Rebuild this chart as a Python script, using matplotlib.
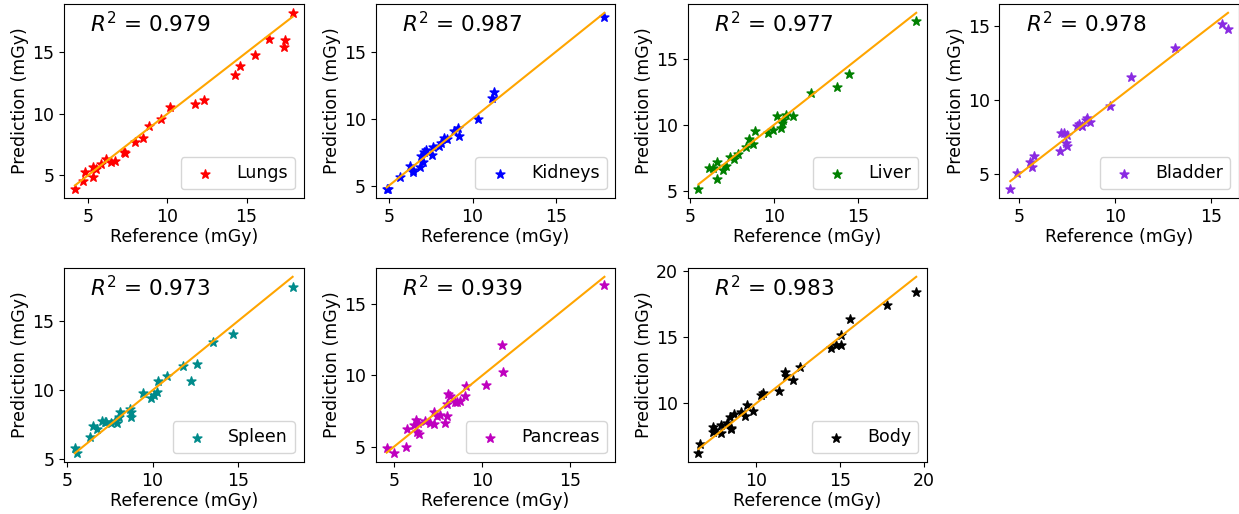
import numpy as np
import matplotlib
matplotlib.use("Agg")
import matplotlib.pyplot as plt

# (Reference dose, Predicted dose) in mGy
lungs_ref = [4.16, 4.69, 4.79, 5.31, 5.31, 5.52, 5.84, 6.15, 6.46, 6.67, 7.24, 7.34,
             7.93, 8.45, 8.87, 9.60, 10.17, 11.76, 12.32, 14.25, 14.56, 15.52, 16.44,
             17.41, 17.38, 17.91]
lungs_pred = [3.86, 4.51, 5.22, 4.86, 5.63, 5.54, 5.95, 6.28, 6.09, 6.14, 6.85, 6.77,
              7.72, 8.07, 9.02, 9.54, 10.57, 10.76, 11.09, 13.15, 13.91, 14.78, 16.09,
              16.00, 15.41, 18.23]

kidneys_ref = [4.86, 4.96, 5.66, 6.26, 6.42, 6.46, 6.86, 6.90, 7.06, 7.12, 7.20, 7.55,
               7.65, 8.01, 8.11, 8.31, 8.45, 8.91, 9.11, 9.21, 10.31, 11.15, 11.29, 17.89]
kidneys_pred = [4.73, 4.75, 5.67, 6.49, 6.04, 6.16, 6.36, 7.20, 6.78, 7.52, 7.65, 7.28,
                7.90, 7.95, 8.19, 8.56, 8.44, 9.08, 9.26, 8.69, 9.95, 11.56, 11.98, 17.60]

liver_ref = [5.50, 6.15, 6.35, 6.59, 6.61, 6.99, 7.15, 7.35, 7.64, 7.84, 8.34, 8.54,
             8.74, 8.84, 9.67, 9.93, 10.19, 10.43, 10.47, 10.53, 10.73, 11.12, 12.18,
             13.77, 14.50, 18.48]
liver_pred = [5.13, 6.76, 6.76, 5.89, 7.21, 6.58, 6.88, 7.60, 7.42, 7.80, 8.36, 8.92,
              8.56, 9.50, 9.38, 9.63, 10.70, 9.76, 10.14, 10.39, 10.78, 10.70, 12.38,
              12.89, 13.83, 17.85]

bladder_ref = [4.53, 4.86, 5.55, 5.66, 5.75, 7.13, 7.17, 7.34, 7.43, 7.46, 7.48, 8.00,
               8.12, 8.29, 8.47, 8.55, 8.67, 9.73, 10.81, 13.11, 15.54, 15.87]
bladder_pred = [3.99, 5.09, 5.79, 5.50, 6.24, 6.55, 7.79, 7.75, 7.12, 6.89, 7.64, 8.24,
                8.38, 8.24, 8.65, 8.76, 8.49, 9.62, 11.58, 13.49, 15.11, 14.80]

spleen_ref = [5.45, 5.58, 6.32, 6.51, 6.75, 7.06, 7.19, 7.29, 7.58, 7.78, 7.91, 8.03,
              8.11, 8.65, 8.71, 8.75, 9.43, 9.91, 10.07, 10.24, 10.34, 10.84, 11.80,
              12.24, 12.63, 13.54, 14.73, 18.20]
spleen_pred = [5.81, 5.48, 6.60, 7.39, 7.20, 7.79, 7.67, 7.72, 7.63, 7.79, 7.63, 8.03,
               8.44, 8.68, 8.44, 8.10, 9.82, 9.46, 9.65, 9.87, 10.66, 11.06, 11.78,
               10.66, 11.92, 13.52, 14.07, 17.46]

pancreas_ref = [4.57, 5.00, 5.66, 5.72, 6.13, 6.23, 6.28, 6.38, 6.36, 6.75, 7.02, 7.23,
                7.26, 7.45, 7.60, 7.89, 8.02, 8.02, 8.06, 8.15, 8.45, 8.58, 8.72, 9.02,
                9.06, 10.19, 11.13, 11.19, 16.94]
pancreas_pred = [4.88, 4.53, 4.95, 6.25, 6.53, 6.88, 5.99, 5.87, 6.65, 6.76, 6.65, 6.60,
                 7.40, 7.12, 7.19, 6.65, 7.16, 8.01, 8.72, 8.58, 8.13, 8.13, 8.18, 8.58,
                 9.28, 9.31, 12.11, 10.25, 16.34]

body_ref = [6.55, 6.65, 7.41, 7.41, 7.51, 7.91, 7.91, 8.27, 8.41, 8.47, 8.51, 8.67,
            9.10, 9.30, 9.46, 9.80, 10.26, 10.40, 11.39, 11.69, 11.75, 12.19, 12.59,
            14.48, 14.78, 15.08, 15.08, 15.62, 17.81, 19.56]
body_pred = [6.23, 6.91, 7.86, 8.24, 7.99, 8.37, 7.79, 8.49, 9.00, 8.17, 8.07, 9.17,
             9.37, 9.05, 9.87, 9.42, 10.63, 10.80, 10.95, 12.39, 12.06, 11.76, 12.71,
             14.20, 14.40, 14.40, 15.15, 16.36, 17.46, 18.42]

organs = ["Lungs", "Kidneys", "Liver", "Bladder", "Spleen", "Pancreas", "Body"]
r2_vals = [0.979, 0.987, 0.977, 0.978, 0.973, 0.939, 0.983]
colors = ["red", "blue", "green", "blueviolet", "darkcyan", "m", "black"]
refs = [lungs_ref, kidneys_ref, liver_ref, bladder_ref, spleen_ref, pancreas_ref, body_ref]
preds = [lungs_pred, kidneys_pred, liver_pred, bladder_pred, spleen_pred, pancreas_pred, body_pred]

W, H = 1239, 514
fig = plt.figure(figsize=(W / 100, H / 100), dpi=100)
FS = 12.5

ax_w, ax_h = 239.5, 194
gap = 72.3
lefts = [64 + i * (ax_w + gap) for i in range(4)]
tops = [4, 268]

for i, name in enumerate(organs):
    row, col = divmod(i, 4)
    x0 = lefts[col]
    y0 = tops[row]
    ax = fig.add_axes([x0 / W, 1 - (y0 + ax_h) / H, ax_w / W, ax_h / H])
    x = np.array(refs[i])
    y = np.array(preds[i])
    ax.scatter(x, y, marker="*", s=45, color=colors[i], label=name)
    # identity line over the reference range
    xs = np.array([x.min(), x.max()])
    ax.plot(xs, xs, color="orange")
    ax.text(0.11, 0.9, r"$R^2$ = %.3f" % r2_vals[i], transform=ax.transAxes,
            fontsize=15.5, va="center", ha="left")
    ax.legend(loc="lower right", fontsize=FS)
    ax.set_xlabel("Reference (mGy)", fontsize=FS, labelpad=2)
    ax.set_ylabel("Prediction (mGy)", fontsize=FS, labelpad=2)
    ax.tick_params(labelsize=FS)

fig.savefig("out.png", dpi=100)
